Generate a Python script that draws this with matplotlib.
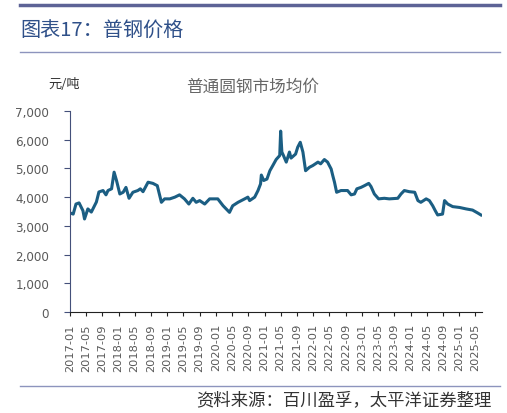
import pandas as pd
import matplotlib
matplotlib.use('Agg')
import matplotlib.pyplot as plt
import matplotlib.dates as mdates
from matplotlib.ticker import FuncFormatter
from matplotlib.lines import Line2D

plt.rcParams['font.family'] = ['Noto Sans CJK SC', 'DejaVu Sans']

# 普通圆钢市场均价 (元/吨)
dates = [
    '2017-01-01', '2017-01-25', '2017-02-15', '2017-03-10', '2017-04-08', '2017-04-20',
    '2017-05-15', '2017-06-10', '2017-07-18', '2017-08-06', '2017-09-06', '2017-09-28',
    '2017-10-13', '2017-11-09', '2017-11-28', '2017-12-16', '2018-01-10', '2018-02-04',
    '2018-02-25', '2018-03-20', '2018-04-18', '2018-05-25', '2018-06-13', '2018-07-03',
    '2018-08-10', '2018-09-15', '2018-10-18', '2018-11-18', '2018-12-12', '2019-01-20',
    '2019-02-27', '2019-04-03', '2019-05-10', '2019-06-12', '2019-07-12', '2019-08-06',
    '2019-09-01', '2019-10-09', '2019-11-15', '2020-01-15', '2020-02-24', '2020-03-18',
    '2020-04-12', '2020-05-06', '2020-06-15', '2020-08-04', '2020-08-28', '2020-09-10',
    '2020-10-18', '2020-11-12', '2020-12-01', '2020-12-07', '2020-12-25', '2021-01-18',
    '2021-02-09', '2021-03-03', '2021-03-28', '2021-04-24', '2021-05-01', '2021-05-10',
    '2021-05-22', '2021-06-12', '2021-07-06', '2021-07-18', '2021-08-21', '2021-09-06',
    '2021-09-25', '2021-10-15', '2021-11-04', '2021-12-03', '2021-12-28', '2022-02-05',
    '2022-02-25', '2022-03-25', '2022-04-18', '2022-05-15', '2022-05-27', '2022-06-09',
    '2022-06-25', '2022-07-28', '2022-09-15', '2022-10-12', '2022-11-06', '2022-11-24',
    '2022-12-25', '2023-01-20', '2023-02-21', '2023-03-10', '2023-04-04', '2023-05-06',
    '2023-06-18', '2023-07-25', '2023-09-27', '2023-10-21', '2023-11-15', '2023-12-22',
    '2024-02-01', '2024-02-25', '2024-03-18', '2024-04-27', '2024-05-21', '2024-06-15',
    '2024-07-04', '2024-07-22', '2024-08-28', '2024-09-12', '2024-10-06', '2024-11-12',
    '2025-01-03', '2025-02-21', '2025-04-10', '2025-05-18', '2025-06-12',
]
prices = [
    3450, 3410, 3760, 3800, 3530, 3240,
    3590, 3480, 3830, 4180, 4230, 4080,
    4230, 4290, 4870, 4580, 4110, 4170,
    4340, 3960, 4170, 4230, 4290, 4190,
    4520, 4480, 4400, 3820, 3940, 3940,
    4000, 4080, 3940, 3760, 3960, 3820,
    3880, 3760, 3940, 3940, 3700, 3590,
    3470, 3700, 3820, 3940, 4000, 3880,
    4000, 4230, 4460, 4770, 4580, 4630,
    4920, 5100, 5310, 5450, 6300, 5570,
    5450, 5220, 5570, 5360, 5500, 5740,
    5910, 5570, 4920, 5040, 5100, 5220,
    5160, 5310, 5220, 4980, 4750, 4520,
    4170, 4230, 4230, 4080, 4110, 4290,
    4340, 4400, 4480, 4370, 4110, 3940,
    3960, 3940, 3960, 4110, 4230, 4190,
    4170, 3880, 3820, 3940, 3880, 3700,
    3530, 3380, 3410, 3880, 3760, 3670,
    3640, 3590, 3550, 3450, 3380,
]
yticks = [0, 1000, 2000, 3000, 4000, 5000, 6000, 7000]

x = pd.to_datetime(dates)

fig = plt.figure(figsize=(5.07, 4.14), dpi=100)
ax = fig.add_axes([70 / 507, 1 - 313 / 414, 412 / 507, 201 / 414])

ax.plot(x, prices, color='#1b5e83', lw=2.2, solid_joinstyle='round')

ax.set_ylim(0, 7000)
ax.set_yticks(yticks)
ax.yaxis.set_major_formatter(FuncFormatter(lambda v, p: '{:,.0f}'.format(v)))
ax.set_xlim(pd.Timestamp('2017-01-01'), pd.Timestamp('2025-06-20'))
ax.xaxis.set_major_locator(mdates.MonthLocator(bymonth=[1, 5, 9]))
ax.xaxis.set_major_formatter(mdates.DateFormatter('%Y-%m'))

for s in ['top', 'right']:
    ax.spines[s].set_visible(False)
ax.spines['left'].set_color('#44507a')
ax.spines['bottom'].set_color('#222222')
ax.tick_params(axis='y', length=4, color='#44507a', pad=11, labelsize=8.6,
               labelcolor='#595959', direction='out')
ax.tick_params(axis='x', length=3, color='#222222', pad=5, labelsize=8.2,
               labelcolor='#595959', labelrotation=90)
for lab in ax.get_xticklabels() + ax.get_yticklabels():
    lab.set_fontfamily('DejaVu Sans')

# header / footer decoration
fig.add_artist(Line2D([20 / 507, 500 / 507], [1 - 6 / 414] * 2, color='#5d6396', lw=2.5))
fig.add_artist(Line2D([20 / 507, 500 / 507], [1 - 53 / 414] * 2, color='#8d94bd', lw=1.0))
fig.add_artist(Line2D([20 / 507, 500 / 507], [1 - 387 / 414] * 2, color='#8d94bd', lw=1.0))

fig.text(20 / 507, 1 - 31 / 414, '图表17：普钢价格', fontsize=14.5, color='#2f5089',
         va='center', ha='left')
fig.text(64 / 507, 1 - 84 / 414, '元/吨', fontsize=9.5, color='#333333',
         va='center', ha='center')
fig.text(253 / 507, 1 - 87 / 414, '普通圆钢市场均价', fontsize=12, color='#666666',
         va='center', ha='center')
fig.text(492 / 507, 1 - 400 / 414, '资料来源：百川盈孚，太平洋证券整理', fontsize=12.5,
         color='#333333', va='center', ha='right')

fig.savefig('out.png', dpi=100)
